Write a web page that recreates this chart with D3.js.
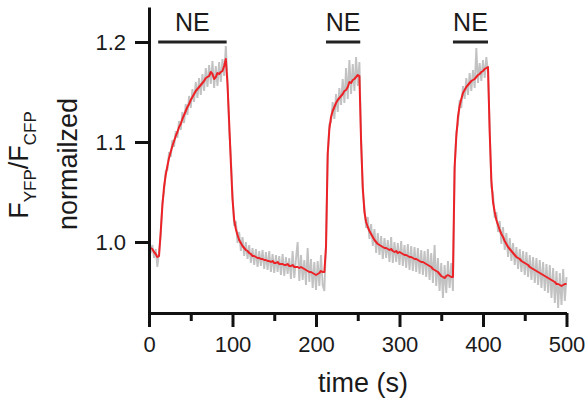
<!DOCTYPE html>
<html>
<head>
<meta charset="utf-8">
<script src="https://cdn.jsdelivr.net/npm/d3@7"></script>
<style>
  body { margin: 0; background: #fff; }
  text { font-family: "Liberation Sans", Arial, sans-serif; fill: #1a1a1a; }
</style>
</head>
<body>
<div id="chart"></div>
<script>
// sampling step of both traces, in seconds
var timeStep = 2;

// smoothed trace (red), one value every 2 s from 0 to 500 s
var smoothValues = [
  0.995, 0.994, 0.993, 0.990, 0.988, 0.985, 0.986, 1.010, 1.036, 1.055,
  1.067, 1.076, 1.084, 1.090, 1.096, 1.101, 1.106, 1.110, 1.115, 1.118,
  1.123, 1.127, 1.131, 1.135, 1.138, 1.142, 1.145, 1.148, 1.151, 1.153,
  1.155, 1.157, 1.159, 1.161, 1.164, 1.165, 1.166, 1.170, 1.168, 1.163,
  1.165, 1.169, 1.168, 1.170, 1.171, 1.176, 1.183, 1.158, 1.120, 1.080,
  1.043, 1.022, 1.013, 1.007, 1.002, 0.999, 0.996, 0.994, 0.992, 0.991,
  0.989, 0.988, 0.986, 0.986, 0.985, 0.984, 0.984, 0.983, 0.983, 0.982,
  0.982, 0.981, 0.981, 0.980, 0.981, 0.979, 0.979, 0.980, 0.978, 0.978,
  0.978, 0.977, 0.977, 0.978, 0.976, 0.976, 0.977, 0.975, 0.975, 0.975,
  0.974, 0.975, 0.974, 0.973, 0.972, 0.971, 0.970, 0.970, 0.969, 0.968,
  0.967, 0.968, 0.969, 0.971, 0.970, 0.970, 0.995, 1.088, 1.113, 1.125,
  1.131, 1.135, 1.139, 1.142, 1.144, 1.146, 1.148, 1.151, 1.152, 1.155,
  1.160, 1.159, 1.162, 1.163, 1.165, 1.167, 1.166, 1.100, 1.055, 1.030,
  1.020, 1.015, 1.011, 1.008, 1.005, 1.002, 1.000, 0.998, 0.997, 0.996,
  0.995, 0.994, 0.994, 0.993, 0.992, 0.993, 0.991, 0.990, 0.991, 0.989,
  0.990, 0.989, 0.988, 0.987, 0.987, 0.986, 0.985, 0.985, 0.984, 0.983,
  0.983, 0.982, 0.981, 0.980, 0.980, 0.979, 0.978, 0.977, 0.976, 0.975,
  0.973, 0.972, 0.971, 0.970, 0.968, 0.966, 0.965, 0.964, 0.966, 0.967,
  0.966, 0.965, 0.965, 1.075, 1.105, 1.125, 1.136, 1.143, 1.149, 1.152,
  1.155, 1.157, 1.159, 1.161, 1.162, 1.163, 1.165, 1.167, 1.168, 1.170,
  1.171, 1.173, 1.174, 1.175, 1.110, 1.062, 1.040, 1.030, 1.022, 1.017,
  1.012, 1.008, 1.005, 1.001, 0.998, 0.995, 0.993, 0.991, 0.989, 0.987,
  0.985, 0.984, 0.983, 0.981, 0.980, 0.979, 0.978, 0.977, 0.975, 0.974,
  0.973, 0.972, 0.971, 0.970, 0.969, 0.968, 0.967, 0.966, 0.965, 0.964,
  0.963, 0.962, 0.961, 0.960, 0.958, 0.958, 0.957, 0.956, 0.957, 0.958,
  0.958
];

// raw trace (grey), same sampling
var rawValues = [
  0.999, 0.989, 0.997, 0.984, 0.993, 0.975, 0.990, 1.006, 1.040, 1.050,
  1.071, 1.072, 1.090, 1.085, 1.102, 1.095, 1.111, 1.104, 1.121, 1.112,
  1.130, 1.119, 1.138, 1.127, 1.146, 1.134, 1.153, 1.140, 1.160, 1.144,
  1.164, 1.147, 1.168, 1.151, 1.174, 1.155, 1.177, 1.158, 1.181, 1.154,
  1.176, 1.156, 1.180, 1.160, 1.183, 1.166, 1.196, 1.162, 1.112, 1.086,
  1.048, 1.016, 1.021, 0.999, 1.010, 0.991, 1.005, 0.986, 1.000, 0.983,
  0.997, 0.979, 0.994, 0.977, 0.993, 0.975, 0.991, 0.976, 0.992, 0.973,
  0.990, 0.972, 0.991, 0.970, 0.988, 0.969, 0.987, 0.970, 0.986, 0.967,
  0.988, 0.966, 0.985, 0.968, 0.984, 0.963, 0.991, 0.964, 0.983, 1.000,
  0.961, 0.987, 0.962, 0.982, 0.957, 0.994, 0.960, 0.983, 0.954, 0.980,
  0.952, 0.981, 0.956, 0.987, 0.957, 0.951, 0.999, 1.085, 1.118, 1.120,
  1.140, 1.123, 1.148, 1.130, 1.154, 1.137, 1.163, 1.139, 1.174, 1.143,
  1.182, 1.148, 1.178, 1.151, 1.185, 1.156, 1.180, 1.105, 1.050, 1.035,
  1.014, 1.025, 1.003, 1.018, 0.996, 1.013, 0.989, 1.009, 0.987, 1.006,
  0.983, 1.004, 0.984, 1.002, 0.980, 1.005, 0.979, 1.000, 0.980, 0.999,
  0.977, 1.001, 0.976, 0.997, 0.974, 0.998, 0.972, 0.996, 0.971, 0.995,
  0.970, 0.994, 0.968, 0.992, 0.967, 0.991, 0.965, 0.993, 0.962, 0.989,
  0.959, 0.997, 0.956, 0.984, 0.951, 0.979, 0.944, 0.977, 0.949, 0.981,
  0.954, 0.979, 0.951, 1.070, 1.110, 1.118, 1.142, 1.134, 1.156, 1.143,
  1.164, 1.147, 1.169, 1.151, 1.172, 1.154, 1.194, 1.159, 1.179, 1.161,
  1.182, 1.164, 1.185, 1.169, 1.115, 1.055, 1.048, 1.024, 1.030, 1.010,
  1.021, 0.998, 1.015, 0.992, 1.009, 0.985, 1.004, 0.981, 0.999, 0.977,
  0.995, 0.973, 0.993, 0.970, 0.991, 0.967, 0.990, 0.965, 0.987, 0.962,
  0.985, 0.959, 0.984, 0.957, 0.982, 0.954, 0.980, 0.951, 0.978, 0.949,
  0.977, 0.944, 0.974, 0.939, 0.971, 0.934, 0.969, 0.937, 0.973, 0.941,
  0.965
];

// NE application periods (s)
var stimStart = [11, 212, 364];
var stimEnd = [93, 253, 406];
var stimLabel = ["NE", "NE", "NE"];

var xMajorTicks = [0, 100, 200, 300, 400, 500];
var xMinorTicks = [50, 150, 250, 350, 450];
var yTicks = [1.0, 1.1, 1.2];

var width = 587,
    height = 399;

var svg = d3.select("#chart").append("svg")
  .attr("width", width)
  .attr("height", height);

var x = d3.scaleLinear().domain([0, 500]).range([149, 566.5]);
var y = d3.scaleLinear().domain([0.929, 1.235]).range([313, 7]);

var raw = rawValues.map(function(v, i) { return { t: i * timeStep, v: v }; });
var smooth = smoothValues.map(function(v, i) { return { t: i * timeStep, v: v }; });

var line = d3.line()
  .x(function(d) { return x(d.t); })
  .y(function(d) { return y(d.v); });

// grey raw trace
svg.append("path")
  .datum(raw)
  .attr("fill", "none")
  .attr("stroke", "#c2c2c2")
  .attr("stroke-width", 1.9)
  .attr("d", line);

// red smoothed trace
svg.append("path")
  .datum(smooth)
  .attr("fill", "none")
  .attr("stroke", "#ec2227")
  .attr("stroke-width", 2)
  .attr("stroke-linejoin", "round")
  .attr("d", line);

// x axis, major + minor ticks
svg.append("g")
  .attr("class", "axis")
  .attr("transform", "translate(0,313)")
  .call(d3.axisBottom(x).tickValues(xMajorTicks).tickSize(14).tickSizeOuter(0).tickPadding(9));

svg.append("g")
  .attr("class", "axis minor")
  .attr("transform", "translate(0,313)")
  .call(d3.axisBottom(x).tickValues(xMinorTicks).tickSize(8).tickFormat(""))
  .select(".domain").remove();

// y axis
svg.append("g")
  .attr("class", "axis")
  .attr("transform", "translate(149,0)")
  .call(d3.axisLeft(y).tickValues(yTicks).tickSize(14).tickSizeOuter(0).tickPadding(9)
    .tickFormat(d3.format(".1f")));

svg.selectAll(".axis path, .axis line")
  .attr("stroke", "#111")
  .attr("stroke-width", 3);

svg.selectAll(".axis text")
  .style("font-size", "22px")
  .attr("fill", "#222");

// NE bars and labels
var stim = svg.selectAll(".stim")
  .data(stimStart.map(function(s, i) { return { s: s, e: stimEnd[i], label: stimLabel[i] }; }))
  .enter()
  .append("g")
  .attr("class", "stim");

stim.append("line")
  .attr("x1", function(d) { return x(d.s); })
  .attr("x2", function(d) { return x(d.e); })
  .attr("y1", y(1.2))
  .attr("y2", y(1.2))
  .attr("stroke", "#222")
  .attr("stroke-width", 3);

stim.append("text")
  .attr("x", function(d) { return (x(d.s) + x(d.e)) / 2; })
  .attr("y", 31)
  .attr("text-anchor", "middle")
  .style("font-size", "25px")
  .text(function(d) { return d.label; });

// x axis title
svg.append("text")
  .attr("x", 363)
  .attr("y", 392)
  .attr("text-anchor", "middle")
  .style("font-size", "27px")
  .text("time (s)");

// y axis title, two lines
var yTitle = svg.append("text")
  .attr("transform", "translate(28,165) rotate(-90)")
  .attr("text-anchor", "middle")
  .style("font-size", "27px");
yTitle.append("tspan").text("F");
yTitle.append("tspan").attr("dy", 8).style("font-size", "17px").text("YFP");
yTitle.append("tspan").attr("dy", -8).text("/F");
yTitle.append("tspan").attr("dy", 8).style("font-size", "17px").text("CFP");

svg.append("text")
  .attr("transform", "translate(77,164) rotate(-90)")
  .attr("text-anchor", "middle")
  .style("font-size", "27px")
  .text("normailzed");
</script>
</body>
</html>
